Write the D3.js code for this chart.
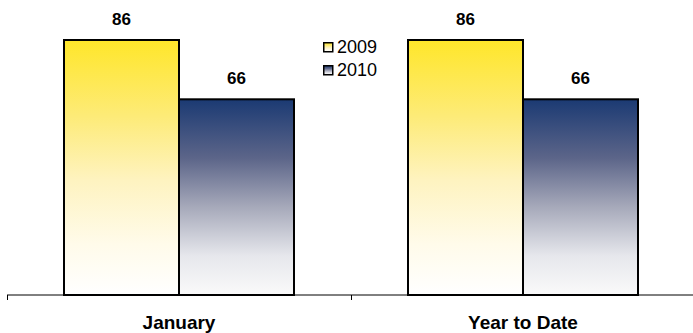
<!DOCTYPE html>
<html><head><meta charset="utf-8">
<script src="https://cdn.jsdelivr.net/npm/d3@7"></script>
<style>body{margin:0;background:#fff}svg{display:block;font-family:"Liberation Sans",Arial,sans-serif}</style>
</head><body><svg id="c" width="693" height="333"></svg>
<script>
const categories = ["January", "Year to Date"];
const seriesNames = ["2009", "2010"];
const values2009 = [86, 86];
const values2010 = [66, 66];
const seriesValues = [values2009, values2010];

const svg = d3.select("#c");
const x0 = d3.scaleBand().domain(categories).range([7, 695]).paddingInner(0).paddingOuter(0);
const x1 = d3.scaleBand().domain(seriesNames).range([57, 344 - 57]).padding(0);
const y = d3.scaleLinear().domain([0, 86]).range([295, 40]);

const defs = svg.append("defs");
const grads = [
  {id: "g2009", stops: [[0, "#FFE62A"], [0.3, "#FDEB78"], [0.55, "#FEF3C0"], [0.8, "#FFFBEA"], [1, "#FFFFFF"]]},
  {id: "g2010", stops: [[0, "#1B3A73"], [0.3, "#5C6589"], [0.55, "#A6A9BA"], [0.8, "#E6E7EC"], [1, "#FAFAFA"]]}
];
grads.forEach(g => {
  const lg = defs.append("linearGradient").attr("id", g.id).attr("x1", 0).attr("y1", 0).attr("x2", 0).attr("y2", 1);
  g.stops.forEach(s => lg.append("stop").attr("offset", s[0]).attr("stop-color", s[1]));
});

// axis
const axisG = svg.append("g").attr("transform", "translate(0,295)");
axisG.append("line").attr("x1", 7).attr("x2", 693).attr("y1", 0).attr("y2", 0).attr("stroke", "#000").attr("stroke-width", 1);
categories.forEach(cat => {
  const xt = Math.round(x0(cat)) + 0.5;
  axisG.append("line").attr("x1", xt).attr("x2", xt).attr("y1", 0).attr("y2", 5).attr("stroke", "#000");
});

// bars
categories.forEach((cat, ci) => {
  const g = svg.append("g").attr("transform", `translate(${x0(cat)},0)`);
  seriesNames.forEach((s, si) => {
    const v = seriesValues[si][ci];
    g.append("rect")
      .attr("x", x1(s)).attr("y", y(v))
      .attr("width", x1.bandwidth()).attr("height", y(0) - y(v))
      .attr("fill", `url(#g${s})`).attr("stroke", "#000").attr("stroke-width", 2);
    g.append("text")
      .attr("x", x1(s) + x1.bandwidth() / 2).attr("y", y(v) - 15)
      .attr("text-anchor", "middle").attr("font-weight", "bold").attr("font-size", 17)
      .text(v);
  });
  svg.append("text")
    .attr("x", x0(cat) + x0.bandwidth() / 2).attr("y", 329)
    .attr("text-anchor", "middle").attr("font-weight", "bold").attr("font-size", 19)
    .text(cat);
});

// legend
const leg = svg.append("g").attr("transform", "translate(323,42)");
seriesNames.forEach((s, i) => {
  const r = leg.append("g").attr("transform", `translate(0,${i * 23})`);
  r.append("rect").attr("x", 0.75).attr("y", 0.75).attr("width", 9).attr("height", 9)
    .attr("fill", `url(#g${s})`).attr("stroke", "#000").attr("stroke-width", 1.5);
  r.append("text").attr("x", 14).attr("y", 11).attr("font-size", 18).text(s);
});
</script></body></html>
